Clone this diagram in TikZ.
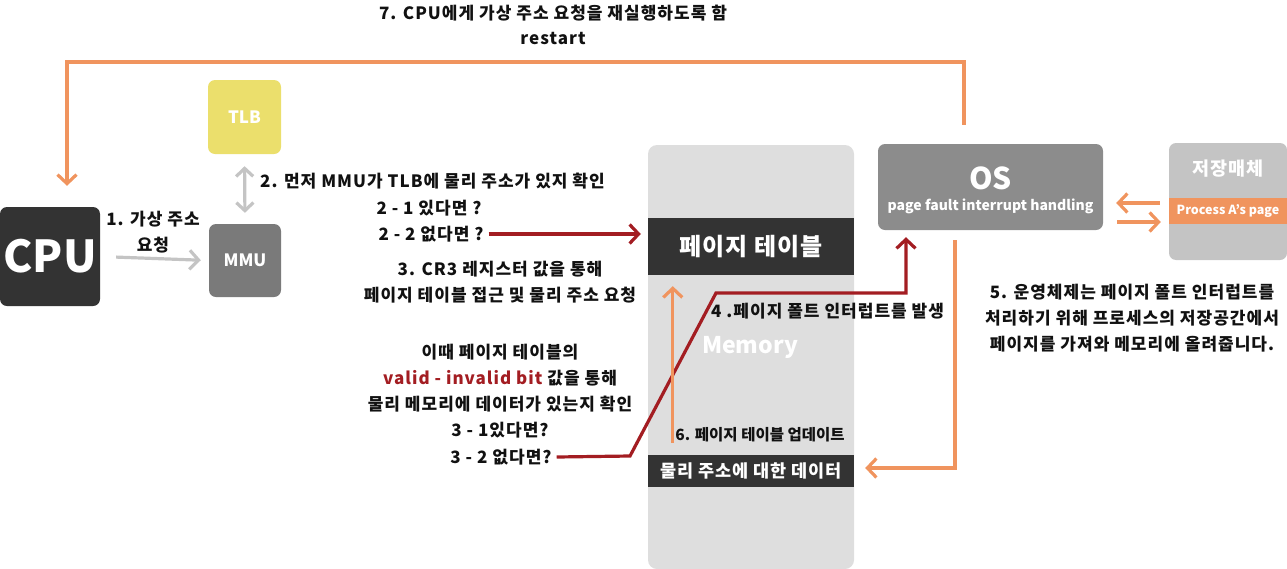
\documentclass[tikz,border=0pt]{standalone}
\usepackage{fontspec}
\setmainfont{Noto Sans CJK KR}
\usetikzlibrary{arrows.meta,calc}
\definecolor{ora}{HTML}{F0945E}
\definecolor{redl}{HTML}{A31D22}
\definecolor{grl}{HTML}{C4C4C4}
\definecolor{dark}{HTML}{333333}
\definecolor{mmuc}{HTML}{7A7A7A}
\definecolor{tlbc}{HTML}{EBDF6C}
\definecolor{memc}{HTML}{DEDEDE}
\definecolor{osc}{HTML}{8C8C8C}
\definecolor{stc}{HTML}{C4C4C4}
\definecolor{txt}{HTML}{111111}
\newcommand{\lsp}[1]{\addfontfeature{LetterSpace=#1}}
\tikzset{
  box/.style={inner sep=0pt, rounded corners=7pt, text=white},
  bar/.style={inner sep=0pt, fill=dark, text=white, minimum width=206pt},
  lbl/.style={inner sep=0pt, text=txt, font=\fontsize{17}{19}\selectfont\bfseries\lsp{6}, align=center},
  tip/.style={-{Straight Barb[length=9pt,width=19pt,line width=3.2pt]}},
  btip/.style={{Straight Barb[length=8pt,width=17pt,line width=3.2pt]}-{Straight Barb[length=8pt,width=17pt,line width=3.2pt]}},
  oline/.style={draw=ora, line width=3.2pt},
  rline/.style={draw=redl, line width=3.2pt},
  gline/.style={draw=grl, line width=3.2pt},
}
\begin{document}
\begin{tikzpicture}[x=1pt,y=-1pt]
\useasboundingbox (0,0) rectangle (1287,568);
% top text
\node[lbl] (t7) at (553,13) {7. CPU에게 가상 주소 요청을 재실행하도록 함};
\node[lbl] (rs) at (553,38) {restart};
% boxes
\node[box, fill=dark, minimum width=100pt, minimum height=99pt, font=\fontsize{44}{44}\selectfont\bfseries] (cpu) at (50,256.5) {CPU};
\node[box, fill=tlbc, minimum width=73pt, minimum height=74pt, font=\fontsize{17}{18}\selectfont\bfseries] (tlb) at (244.5,117) {TLB};
\node[box, fill=mmuc, minimum width=72pt, minimum height=73pt, font=\fontsize{17}{18}\selectfont\bfseries] (mmu) at (245,260.5) {MMU};
\node[box, fill=memc, rounded corners=9pt, minimum width=206pt, minimum height=424pt] (mem) at (751,357) {};
\node[bar, minimum height=57pt, font=\fontsize{24}{26}\selectfont\bfseries\lsp{4}] (pt) at (751,246.5) {페이지 테이블};
\node[bar, minimum height=32pt, font=\fontsize{17.5}{19}\selectfont\bfseries\lsp{5}] (data) at (751,471) {물리 주소에 대한 데이터};
\node[inner sep=0pt, text=white, font=\fontsize{23}{24}\selectfont\bfseries] (memt) at (750,347) {Memory};
\node[box, fill=osc, minimum width=225pt, minimum height=86pt] (os) at (990.5,187) {};
\node[inner sep=0pt, text=white, font=\fontsize{30}{30}\selectfont\bfseries] (ost) at (990.5,178) {OS};
\node[inner sep=0pt, text=white, font=\fontsize{14}{15}\selectfont\bfseries] (osh) at (990.5,206) {page fault interrupt handling};
\node[box, fill=stc, minimum width=118pt, minimum height=117pt] (st) at (1228,201.5) {};
\node[inner sep=0pt, text=white, font=\fontsize{18.5}{20}\selectfont\bfseries\lsp{4}] (stt) at (1228,169) {저장매체};
\node[inner sep=0pt, fill=ora, text=white, minimum width=118pt, minimum height=26pt, font=\fontsize{12.5}{14}\selectfont\bfseries] (band) at (1228,211) {Process A’s page};
% labels
\node[lbl] (l1) at (153,232) {1. 가상 주소\\[7pt]요청};
\node[lbl, anchor=west] (l2) at (260,181) {2. 먼저 MMU가 TLB에 물리 주소가 있지 확인};
\node[lbl] (l21) at (429,208) {2 - 1 있다면 ?};
\node[lbl] (l22) at (431,234) {2 - 2 없다면 ?};
\node[lbl] (l3) at (500,282) {3. CR3 레지스터 값을 통해\\[7pt]페이지 테이블 접근 및 물리 주소 요청};
\node[lbl] (lv) at (500,391) {이때 페이지 테이블의\\[7pt]{\color{redl}valid - invalid bit} 값을 통해\\[7pt]물리 메모리에 데이터가 있는지 확인\\[7pt]3 - 1있다면?};
\node[lbl] (l32) at (501,457) {3 - 2 없다면?};
\node[lbl, anchor=west] (l4) at (711,311) {4 .페이지 폴트 인터럽트를 발생};
\node[lbl, font=\fontsize{15.5}{18}\selectfont\bfseries] (l6) at (760,435) {6. 페이지 테이블 업데이트};
\node[lbl] (l5) at (1132,318) {5. 운영체제는 페이지 폴트 인터럽트를\\[7pt]처리하기 위해 프로세스의 저장공간에서\\[7pt]페이지를 가져와 메모리에 올려줍니다.};
% coordinates
\coordinate (tl) at (67,62);
\coordinate (tr) at (964,62);
\coordinate (r1) at (630,456);
\coordinate (r2) at (716,293);
\coordinate (r3) at (906,293);
\coordinate (o1) at (955,468);
% connectors
\draw[oline, tip, shorten <=19pt, shorten >=21pt] (os.north -| tr) -- (tr) -- (tl) -- (cpu.north -| tl);
\draw[gline, tip, shorten <=16pt, shorten >=8pt] (cpu.east) -- (mmu.west);
\draw[gline, btip, shorten <=12pt, shorten >=11pt] (tlb.south) -- (mmu.north);
\draw[rline, tip, shorten <=5pt, shorten >=7pt] (l22.east) -- (pt.west |- l22.east);
\draw[rline, tip, shorten >=7pt] ([xshift=5pt]l32.east) -- (r1) -- (r2) -- (r3) -- (os.south -| r3);
\draw[oline, tip, shorten <=10pt, shorten >=11pt] (os.south -| o1) -- (o1) -- (data.east |- o1);
\draw[oline, tip, shorten <=12pt, shorten >=11pt] ([xshift=25pt]data.north west) -- ([xshift=25pt]pt.south west);
\draw[oline, tip] ([xshift=-9pt]st.west |- 0,203) -- ([xshift=13pt]os.east |- 0,203);
\draw[oline, tip] ([xshift=14pt]os.east |- 0,222) -- ([xshift=-8pt]st.west |- 0,222);
\end{tikzpicture}
\end{document}
